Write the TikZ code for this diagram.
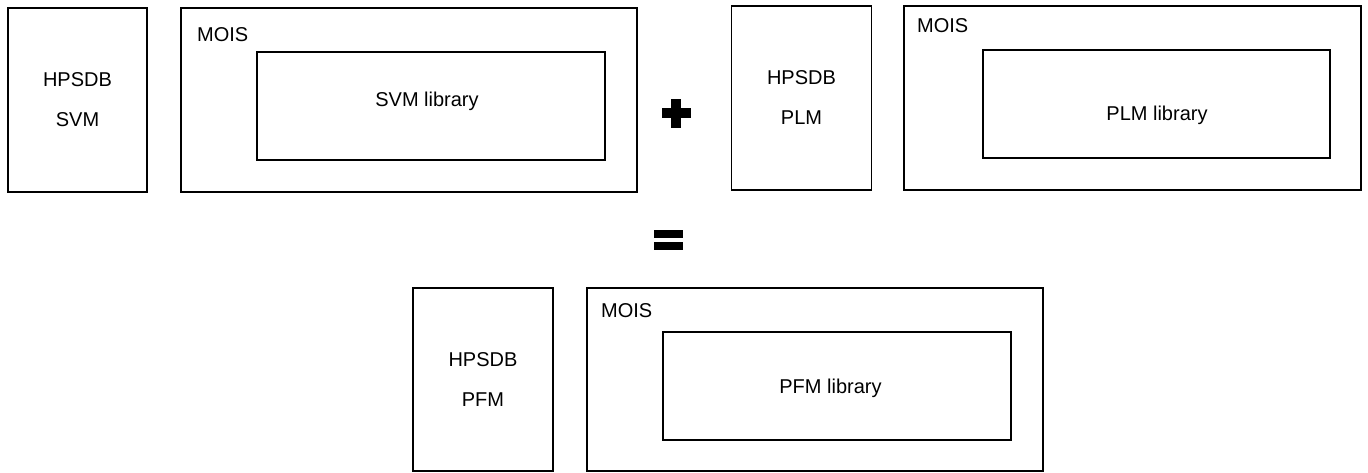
\documentclass[tikz,border=0pt]{standalone}
\usepackage{fontspec}
\setmainfont{Liberation Sans}
\begin{document}
\begin{tikzpicture}[x=1pt,y=-1pt,
  frame/.style={draw=black,line width=1.6pt,rectangle,inner sep=0pt},
  lbl/.style={font=\fontsize{20}{40}\selectfont,inner sep=0pt},
  dbbox/.style={frame,align=center,font=\fontsize{20}{40}\selectfont},
  sign/.style={fill=black,draw=none}]
\useasboundingbox (0,0) rectangle (1368,472);

% --- SVM group ---
\node[dbbox,minimum width=139pt,minimum height=184pt] (dbsvm) at (77.5,100) {HPSDB\\SVM};
\node[frame,minimum width=456pt,minimum height=184pt] (moissvm) at (409,100) {};
\node[frame,minimum width=348pt,minimum height=108pt] (libsvm) at (431,106) {};
\node[lbl,anchor=base west] (tmoissvm) at (197,41.7) {MOIS};
\node[lbl,anchor=base] (tlibsvm) at (427,106.7) {SVM library};

% --- plus sign ---
\node[sign,minimum width=29pt,minimum height=10pt,inner sep=0pt] (plush) at (676,113) {};
\node[sign,minimum width=10pt,minimum height=29pt,inner sep=0pt] (plusv) at (676,113) {};

% --- PLM group ---
\node[dbbox,minimum width=140pt,minimum height=184pt] (dbplm) at (801.5,98) {HPSDB\\PLM};
\node[frame,minimum width=457pt,minimum height=184pt] (moisplm) at (1132.5,98) {};
\node[frame,minimum width=347pt,minimum height=108pt] (libplm) at (1156.5,104) {};
\node[lbl,anchor=base west] (tmoisplm) at (917,32) {MOIS};
\node[lbl,anchor=base] (tlibplm) at (1157,120) {PLM library};

% --- equals sign ---
\node[sign,minimum width=29pt,minimum height=8pt,inner sep=0pt] (eqtop) at (668.5,234) {};
\node[sign,minimum width=29pt,minimum height=8pt,inner sep=0pt] (eqbot) at (668.5,245.5) {};

% --- PFM group ---
\node[dbbox,minimum width=140pt,minimum height=183pt] (dbpfm) at (483,379.5) {HPSDB\\PFM};
\node[frame,minimum width=456pt,minimum height=183pt] (moispfm) at (815,379.5) {};
\node[frame,minimum width=348pt,minimum height=108pt] (libpfm) at (837,386) {};
\node[lbl,anchor=base west] (tmoispfm) at (601,317) {MOIS};
\node[lbl,anchor=base] (tlibpfm) at (830.5,393) {PFM library};
\end{tikzpicture}
\end{document}
